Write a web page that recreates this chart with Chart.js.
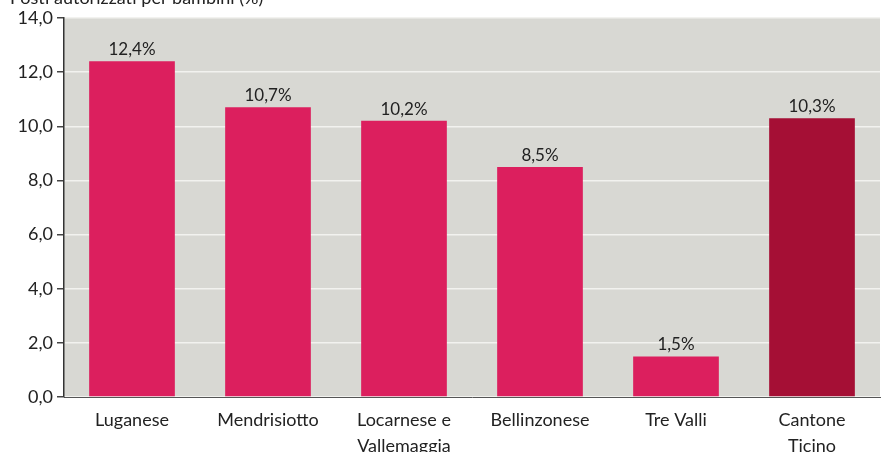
<!DOCTYPE html>
<html>
<head>
<meta charset="utf-8">
<script src="https://cdn.jsdelivr.net/npm/chart.js@4.4.0/dist/chart.umd.min.js"></script>
<style>
  html, body { margin: 0; padding: 0; background: #fff; }
  #wrap { width: 884px; height: 452px; position: relative; }
</style>
</head>
<body>
<div id="wrap"><canvas id="myChart" width="884" height="452"></canvas></div>
<script>
const regions = [["Luganese"], ["Mendrisiotto"], ["Locarnese e", "Vallemaggia"], ["Bellinzonese"], ["Tre Valli"], ["Cantone", "Ticino"]];
const values = [12.4, 10.7, 10.2, 8.5, 1.5, 10.3];
const barColors = ["#dc1f5e", "#dc1f5e", "#dc1f5e", "#dc1f5e", "#dc1f5e", "#a50f35"];
const yTitle = "Posti autorizzati per bambini (%)";

const fontFamily = "Lato, 'Open Sans', sans-serif";
const fmt = (v, d) => v.toFixed(d).replace(".", ",");

// plot background + partially cut title
const backdrop = {
  id: "backdrop",
  beforeDraw(chart) {
    const { ctx, chartArea: a } = chart;
    ctx.save();
    ctx.fillStyle = "#d8d8d3";
    ctx.fillRect(a.left, a.top, a.right - a.left, a.bottom - a.top);
    ctx.fillStyle = "#222";
    ctx.font = "18px " + fontFamily;
    ctx.textBaseline = "middle";
    ctx.fillText(yTitle, 10, -2);
    ctx.restore();
  },
};

const valueLabels = {
  id: "valueLabels",
  afterDatasetsDraw(chart) {
    const { ctx } = chart;
    const meta = chart.getDatasetMeta(0);
    ctx.save();
    ctx.fillStyle = "#222";
    ctx.font = "17px " + fontFamily;
    ctx.textAlign = "center";
    ctx.textBaseline = "bottom";
    meta.data.forEach((bar, i) => {
      ctx.fillText(fmt(values[i], 1) + "%", bar.x, bar.y - 3);
    });
    ctx.restore();
  },
};

new Chart(document.getElementById("myChart").getContext("2d"), {
  type: "bar",
  data: {
    labels: regions,
    datasets: [
      {
        data: values,
        backgroundColor: barColors,
        borderWidth: 0,
        barPercentage: 0.63,
        categoryPercentage: 1,
      },
    ],
  },
  options: {
    responsive: false,
    animation: false,
    layout: { padding: { top: 18, right: 4, left: 0, bottom: 0 } },
    plugins: { legend: { display: false }, tooltip: { enabled: false } },
    scales: {
      x: {
        grid: { display: false, drawTicks: false },
        border: { color: "#555", width: 1 },
        ticks: {
          color: "#222",
          font: { family: fontFamily, size: 18, lineHeight: 1.45 },
          padding: 10,
          maxRotation: 0,
          autoSkip: false,
        },
        afterFit(scale) { scale.height = 55; },
      },
      y: {
        min: 0,
        max: 14,
        ticks: {
          stepSize: 2,
          color: "#222",
          font: { family: fontFamily, size: 18 },
          padding: 4,
          callback: (v) => fmt(v, 1),
        },
        grid: {
          color: "#f2f2ef",
          lineWidth: 1.5,
          tickColor: "#444",
          tickLength: 7,
          drawTicks: true,
        },
        border: { color: "#333", width: 1.5 },
        afterFit(scale) { scale.width = 64; },
      },
    },
  },
  plugins: [backdrop, valueLabels],
});
</script>
</body>
</html>
